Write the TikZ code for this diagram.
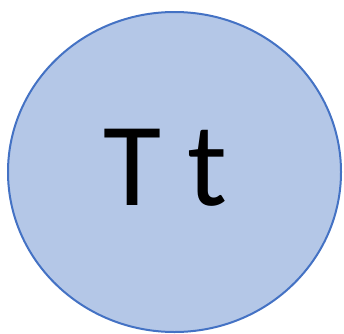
\documentclass[tikz,border=0pt]{standalone}
\usepackage{fontspec}
\setmainfont{Carlito}
\definecolor{fillblue}{HTML}{B4C7E7}
\definecolor{edgeblue}{HTML}{4472C4}
\tikzset{blob/.style={fill=fillblue,draw=edgeblue,line width=2pt}}
\begin{document}
\begin{tikzpicture}[x=1pt,y=1pt]
\useasboundingbox (0,0) rectangle (344,333);
\draw[blob] (174.5,161) ellipse [x radius=166.5, y radius=160];
\node[anchor=base, inner sep=0pt, font=\fontsize{119}{130}\selectfont] (lbl) at (165.5,128) {T t};
\end{tikzpicture}
\end{document}
